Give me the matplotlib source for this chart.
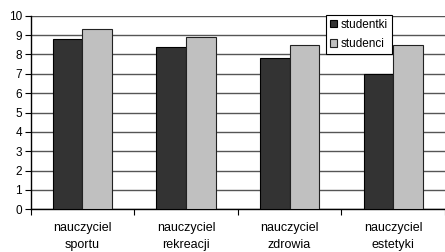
import matplotlib
matplotlib.use("Agg")
import matplotlib.pyplot as plt
import numpy as np

categories = ["nauczyciel\nsportu", "nauczyciel\nrekreacji", "nauczyciel\nzdrowia", "nauczyciel\nestetyki"]
studentki = [8.8, 8.4, 7.8, 7.0]
studenci = [9.3, 8.9, 8.5, 8.5]
series_names = ["studentki", "studenci"]
y_ticks = list(range(0, 11))

plt.rcParams['font.family'] = ['Liberation Sans', 'DejaVu Sans']
fig = plt.figure(figsize=(4.45, 2.52), dpi=100)
ax = fig.add_axes([30.5/445, 1-209.3/252, (445-30.5)/445, (209.3-15.7)/252])

x = np.arange(len(categories))
w = 0.286
ax.bar(x - w/2, studentki, w, color="#333333", edgecolor="black", linewidth=0.8, label=series_names[0], zorder=3)
ax.bar(x + w/2, studenci, w, color="#c0c0c0", edgecolor="#222222", linewidth=0.8, label=series_names[1], zorder=3)

ax.set_xlim(-0.5, len(categories) - 0.5)
ax.set_ylim(0, 10)
ax.set_yticks(y_ticks)
ax.set_yticklabels([str(t) for t in y_ticks], fontsize=8.5)
ax.yaxis.grid(True, color="#555555", linewidth=1.0, zorder=0)
ax.set_axisbelow(True)

ax.set_xticks(np.arange(len(categories) + 1) - 0.5)
ax.set_xticklabels([])
ax.set_xticks(x, minor=True)
ax.set_xticklabels(categories, minor=True, fontsize=9, linespacing=1.6)
ax.tick_params(axis='x', which='minor', length=0, pad=9)
ax.tick_params(axis='x', which='major', length=4, width=0.8, direction='out')
ax.tick_params(axis='y', length=4, width=0.8, direction='out', pad=2)

for s in ["top", "right"]:
    ax.spines[s].set_visible(False)
ax.spines["left"].set_linewidth(1.0)
ax.spines["bottom"].set_linewidth(1.0)

leg = ax.legend(loc="upper left", bbox_to_anchor=((326-30.5)/(445-30.5), 1.005), fontsize=8.5,
                frameon=True, fancybox=False, edgecolor="black", framealpha=1,
                handlelength=0.6, handleheight=0.6, handletextpad=0.3,
                borderpad=0.35, labelspacing=0.6, borderaxespad=0)
leg.get_frame().set_linewidth(0.8)

fig.savefig("out.png", dpi=100)
